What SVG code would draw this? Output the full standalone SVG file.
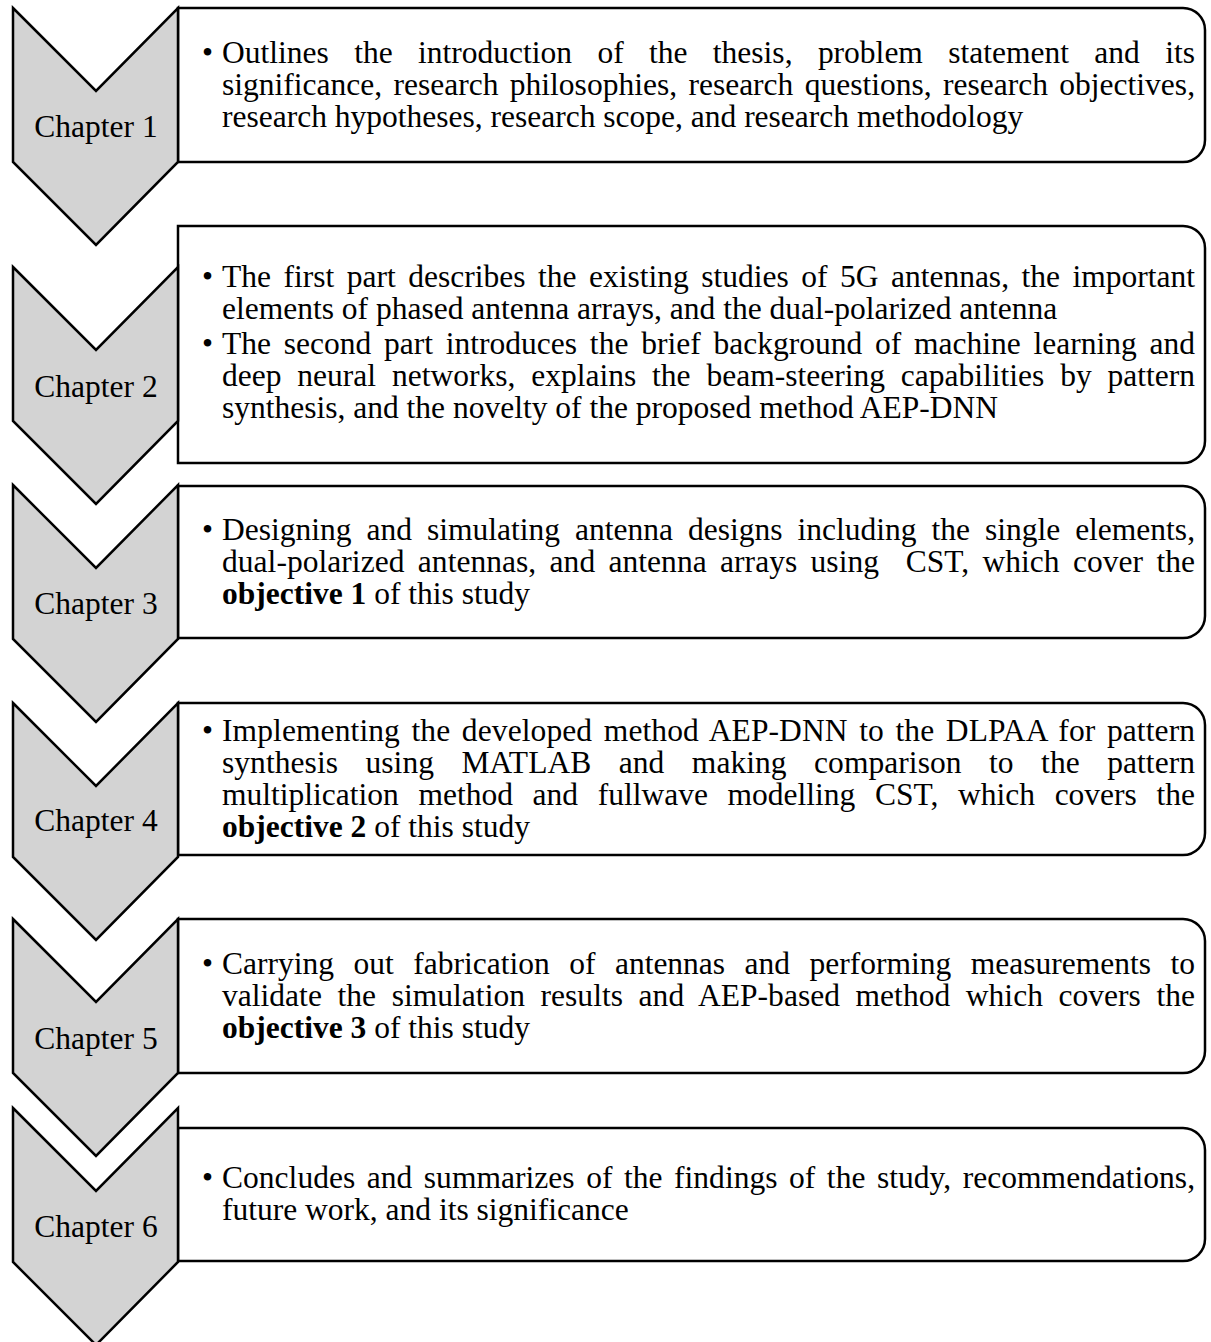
<svg xmlns="http://www.w3.org/2000/svg" width="1211" height="1342" viewBox="0 0 1211 1342">
  <style>
    .chev { fill: #d3d3d3; stroke: #000; stroke-width: 2.5; stroke-linejoin: miter; }
    .box { fill: #fff; stroke: #000; stroke-width: 2.5; }
    text { font-family: "Liberation Serif", "Times New Roman", serif; font-size: 31.5px; fill: #000; }
    .lbl { text-anchor: middle; }
    .b { font-weight: bold; }
  </style>
  <rect width="1211" height="1342" fill="#fff"/>

  <!-- description boxes: square on the left, rounded on the right; justified lines use word-spacing -->
  <g id="box1"><path class="box" d="M178,8 H1183 A22,22 0 0 1 1205,30 V140 A22,22 0 0 1 1183,162 H178 Z"/>
    <text x="202" y="63">•</text>
    <text x="222" y="63" word-spacing="17.5" textLength="973" lengthAdjust="spacing">Outlines the introduction of the thesis, problem statement and its</text>
    <text x="222" y="95" word-spacing="3.5" textLength="973" lengthAdjust="spacing">significance, research philosophies, research questions, research objectives,</text>
    <text x="222" y="127">research hypotheses, research scope, and research methodology</text>
  </g>
  <g id="box2"><path class="box" d="M178,226 H1183 A22,22 0 0 1 1205,248 V441 A22,22 0 0 1 1183,463 H178 Z"/>
    <text x="202" y="287">•</text>
    <text x="222" y="287" word-spacing="4.6" textLength="973" lengthAdjust="spacing">The first part describes the existing studies of 5G antennas, the important</text>
    <text x="222" y="319">elements of phased antenna arrays, and the dual-polarized antenna</text>
    <text x="202" y="354">•</text>
    <text x="222" y="354" word-spacing="4.9" textLength="973" lengthAdjust="spacing">The second part introduces the brief background of machine learning and</text>
    <text x="222" y="386" word-spacing="8" textLength="973" lengthAdjust="spacing">deep neural networks, explains the beam-steering capabilities by pattern</text>
    <text x="222" y="418">synthesis, and the novelty of the proposed method AEP-DNN</text>
  </g>
  <g id="box3"><path class="box" d="M178,486 H1183 A22,22 0 0 1 1205,508 V616 A22,22 0 0 1 1183,638 H178 Z"/>
    <text x="202" y="540">•</text>
    <text x="222" y="540" word-spacing="7.1" textLength="973" lengthAdjust="spacing">Designing and simulating antenna designs including the single elements,</text>
    <text x="222" y="572" xml:space="preserve" word-spacing="5.4" textLength="973" lengthAdjust="spacing">dual-polarized antennas, and antenna arrays using  CST, which cover the</text>
    <text x="222" y="604"><tspan class="b">objective 1</tspan> of this study</text>
  </g>
  <g id="box4"><path class="box" d="M178,703 H1183 A22,22 0 0 1 1205,725 V833 A22,22 0 0 1 1183,855 H178 Z"/>
    <text x="202" y="741">•</text>
    <text x="222" y="741" word-spacing="3.6" textLength="973" lengthAdjust="spacing">Implementing the developed method AEP-DNN to the DLPAA for pattern</text>
    <text x="222" y="773" word-spacing="19.5" textLength="973" lengthAdjust="spacing">synthesis using MATLAB and making comparison to the pattern</text>
    <text x="222" y="805" word-spacing="11.8" textLength="973" lengthAdjust="spacing">multiplication method and fullwave modelling CST, which covers the</text>
    <text x="222" y="837"><tspan class="b">objective 2</tspan> of this study</text>
  </g>
  <g id="box5"><path class="box" d="M178,919 H1183 A22,22 0 0 1 1205,941 V1051 A22,22 0 0 1 1183,1073 H178 Z"/>
    <text x="202" y="974">•</text>
    <text x="222" y="974" word-spacing="11.6" textLength="973" lengthAdjust="spacing">Carrying out fabrication of antennas and performing measurements to</text>
    <text x="222" y="1006" word-spacing="7.7" textLength="973" lengthAdjust="spacing">validate the simulation results and AEP-based method which covers the</text>
    <text x="222" y="1038"><tspan class="b">objective 3</tspan> of this study</text>
  </g>
  <g id="box6"><path class="box" d="M178,1128 H1183 A22,22 0 0 1 1205,1150 V1239 A22,22 0 0 1 1183,1261 H178 Z"/>
    <text x="202" y="1188">•</text>
    <text x="222" y="1188" word-spacing="3.6" textLength="973" lengthAdjust="spacing">Concludes and summarizes of the findings of the study, recommendations,</text>
    <text x="222" y="1220">future work, and its significance</text>
  </g>

  <!-- chapter chevrons -->
  <g id="chapter1"><polygon class="chev" points="13,8 96,91 178,8 178,162 96,245 13,162"/>
    <text class="lbl" x="96" y="137">Chapter 1</text></g>
  <g id="chapter2"><polygon class="chev" points="13,267 96,350 178,267 178,421 96,504 13,421"/>
    <text class="lbl" x="96" y="397">Chapter 2</text></g>
  <g id="chapter3"><polygon class="chev" points="13,485 96,568 178,485 178,639 96,722 13,639"/>
    <text class="lbl" x="96" y="614">Chapter 3</text></g>
  <g id="chapter4"><polygon class="chev" points="13,703 96,786 178,703 178,857 96,940 13,857"/>
    <text class="lbl" x="96" y="831">Chapter 4</text></g>
  <g id="chapter5"><polygon class="chev" points="13,919 96,1002 178,919 178,1073 96,1156 13,1073"/>
    <text class="lbl" x="96" y="1049">Chapter 5</text></g>
  <g id="chapter6"><polygon class="chev" points="13,1108 96,1191 178,1108 178,1262 96,1345 13,1262"/>
    <text class="lbl" x="96" y="1237">Chapter 6</text></g>

  <g id="connectors"/>
</svg>
